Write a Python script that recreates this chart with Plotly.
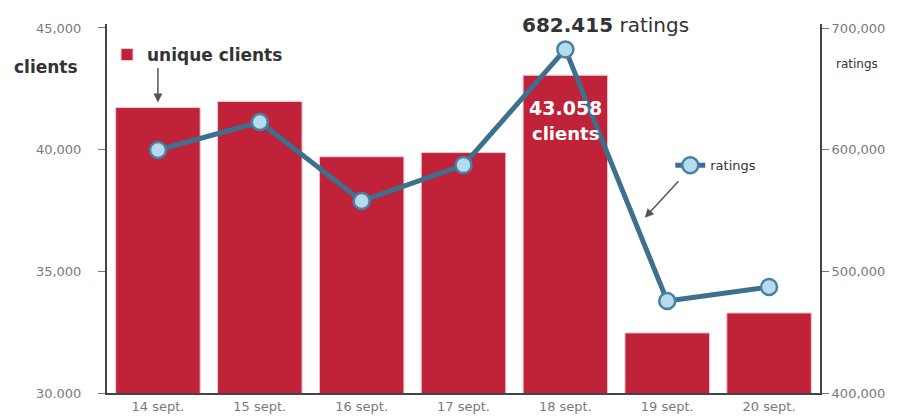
import plotly.graph_objects as go

days = ["14 sept.", "15 sept.", "16 sept.", "17 sept.", "18 sept.", "19 sept.", "20 sept."]
clients = [41730, 41980, 39710, 39880, 43058, 32470, 33290]
ratings = [599700, 622700, 557800, 587300, 682415, 475600, 487100]

left_ticks = [30000, 35000, 40000, 45000]
left_text = ["30.000", "35,000", "40,000", "45,000"]
right_ticks = [400000, 500000, 600000, 700000]
right_text = ["400,000", "500,000", "600,000", "700,000"]

BAR = "#c0223a"
LINE = "#3d6f8e"
GRAY = "#7a7a7a"
DARK = "#333333"
FONT = "DejaVu Sans, Liberation Sans, Arial, sans-serif"

fig = go.Figure()
fig.add_trace(go.Bar(
    x=days, y=clients, name="<b>unique clients</b>",
    marker=dict(color=BAR, line=dict(color="#f3c9cf", width=1)),
    legend="legend", yaxis="y",
))
fig.add_trace(go.Scatter(
    x=days, y=ratings, name="ratings", mode="lines+markers", yaxis="y2",
    line=dict(color=LINE, width=5),
    marker=dict(size=16, color="#b6dbef", line=dict(color="#4a80a2", width=2.5)),
    legend="legend2",
))

fig.update_layout(
    width=915, height=418,
    margin=dict(l=107, r=95, t=24, b=25),
    paper_bgcolor="white", plot_bgcolor="white",
    bargap=0.17,
    font=dict(family=FONT, color=GRAY, size=13),
    xaxis=dict(type="category", range=[-0.5, 6.5], showline=True, linecolor="#444", linewidth=2,
               ticks="", tickfont=dict(size=13, color=GRAY), showgrid=False, zeroline=False,
               automargin=False),
    yaxis=dict(range=[30000, 45164], tickvals=left_ticks, ticktext=left_text, showline=True,
               linecolor="#444", linewidth=2, ticks="outside", ticklen=7, tickcolor="#777",
               showgrid=False, zeroline=False, tickfont=dict(size=13, color=GRAY),
               ticklabelstandoff=14, automargin=False),
    yaxis2=dict(range=[400000, 703288], overlaying="y", side="right", tickvals=right_ticks,
                ticktext=right_text, showline=True, linecolor="#444", linewidth=2, ticks="outside",
                ticklen=7, tickcolor="#777", showgrid=False, zeroline=False,
                tickfont=dict(size=13, color=GRAY), automargin=False),
    legend=dict(x=0.0, y=0.916, xanchor="left", yanchor="middle", bgcolor="rgba(0,0,0,0)",
                font=dict(size=17, color=DARK, family=FONT), itemwidth=30),
    legend2=dict(x=0.79, y=0.617, xanchor="left", yanchor="middle", bgcolor="rgba(0,0,0,0)",
                 font=dict(size=13, color=DARK, family=FONT)),
    showlegend=True,
)

# axis titles
fig.add_annotation(text="<b>clients</b>", xref="paper", yref="paper", x=0, y=0.915, xanchor="right",
                   xshift=-27, showarrow=False, font=dict(size=17, color=DARK))
fig.add_annotation(text="ratings", xref="paper", yref="paper", x=1, y=0.915, xanchor="left",
                   xshift=14, showarrow=False, font=dict(size=12, color=DARK))

# arrow from legend to first bar
fig.add_annotation(x=days[0], y=clients[0], yshift=5, ax=0, ay=-36, text="", showarrow=True,
                   arrowhead=2, arrowsize=1.2, arrowwidth=1.5, arrowcolor="#555")

# peak annotations
fig.add_annotation(x=days[4], y=ratings[4], yref="y2", yshift=24, xshift=40,
                   text="<b>682.415</b> ratings", showarrow=False, font=dict(size=20, color=DARK))
fig.add_annotation(x=days[4], y=clients[4], yshift=-33, text="<b>43.058</b>",
                   showarrow=False, font=dict(size=19, color="white"))
fig.add_annotation(x=days[4], y=clients[4], yshift=-58, text="<b>clients</b>",
                   showarrow=False, font=dict(size=18, color="white"))

# arrow from ratings legend to line
fig.add_annotation(x=4.78, y=544000, yref="y2", ax=35, ay=-38, text="", showarrow=True,
                   arrowhead=2, arrowsize=1.2, arrowwidth=1.5, arrowcolor="#555")

fig.write_html("out.html")
